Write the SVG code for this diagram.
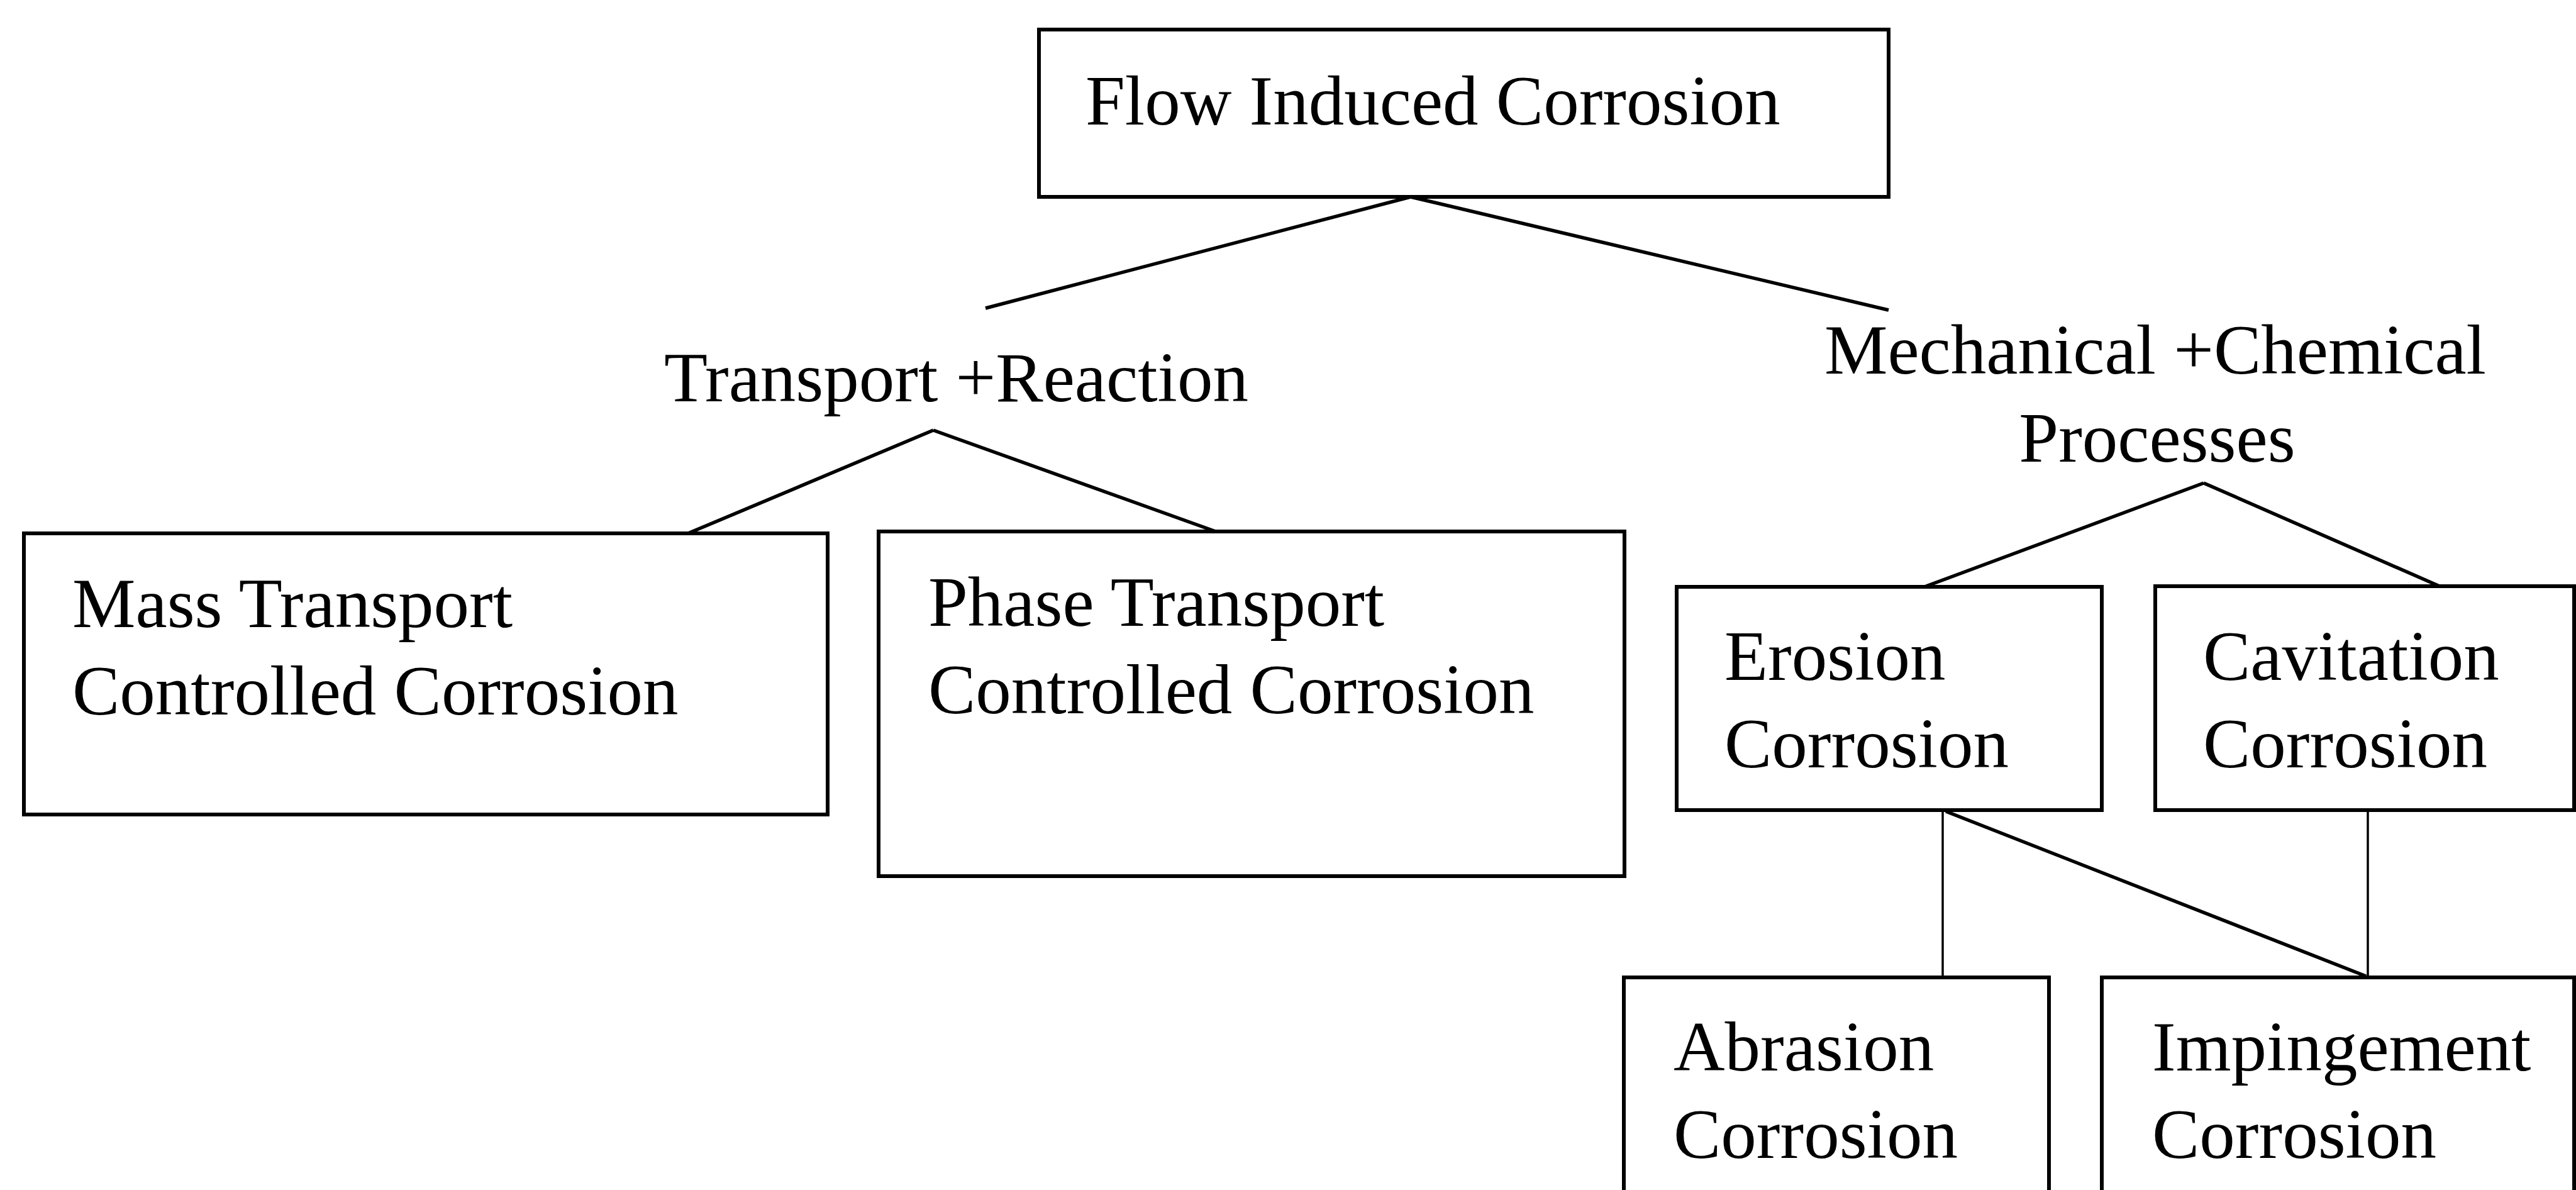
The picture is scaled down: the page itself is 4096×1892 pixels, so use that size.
<svg xmlns="http://www.w3.org/2000/svg" width="4096" height="1892" viewBox="0 0 4096 1892">
<style>
.box{fill:#fff;stroke:#000;stroke-width:6}
.t{font-family:"Liberation Serif","Times New Roman",serif;font-size:113px;fill:#000}
.c{stroke:#000;stroke-width:5.5;fill:none}
.v{stroke:#000;stroke-width:3.5;fill:none}
</style>
<rect width="4096" height="1892" fill="#fff"/>
<g id="connectors">
<line class="c" x1="2243" y1="313" x2="1567" y2="490"/>
<line class="c" x1="2243" y1="313" x2="3003" y2="493"/>
<line class="c" x1="1484" y1="684" x2="1094" y2="848"/>
<line class="c" x1="1484" y1="684" x2="1933" y2="845"/>
<line class="c" x1="3504" y1="768" x2="3060" y2="933"/>
<line class="c" x1="3504" y1="768" x2="3879" y2="932"/>
<line class="v" x1="3089" y1="1288" x2="3089" y2="1554"/>
<line class="c" x1="3094" y1="1290" x2="3762" y2="1552"/>
<line class="v" x1="3765" y1="1288" x2="3765" y2="1554"/>
</g>
<g id="flow-induced-corrosion">
<rect class="box" x="1652" y="47" width="1351" height="266"/>
<text class="t" x="1726" y="198">Flow Induced Corrosion</text>
</g>
<g id="transport-reaction">
<text class="t" x="1056" y="638">Transport +Reaction</text>
</g>
<g id="mechanical-chemical">
<text class="t" x="3427" y="594" text-anchor="middle">Mechanical +Chemical</text>
<text class="t" x="3430" y="734" text-anchor="middle">Processes</text>
</g>
<g id="mass-transport">
<rect class="box" x="38" y="848" width="1278" height="447"/>
<text class="t" x="115" y="997">Mass Transport</text>
<text class="t" x="115" y="1136">Controlled Corrosion</text>
</g>
<g id="phase-transport">
<rect class="box" x="1397" y="845" width="1186" height="548"/>
<text class="t" x="1476" y="995">Phase Transport</text>
<text class="t" x="1476" y="1134">Controlled Corrosion</text>
</g>
<g id="erosion-corrosion">
<rect class="box" x="2666" y="933" width="676" height="355"/>
<text class="t" x="2742" y="1081">Erosion</text>
<text class="t" x="2742" y="1220">Corrosion</text>
</g>
<g id="cavitation-corrosion">
<rect class="box" x="3427" y="932" width="666" height="356"/>
<text class="t" x="3503" y="1081">Cavitation</text>
<text class="t" x="3503" y="1220">Corrosion</text>
</g>
<g id="abrasion-corrosion">
<rect class="box" x="2582" y="1554" width="676" height="400"/>
<text class="t" x="2661" y="1702">Abrasion</text>
<text class="t" x="2661" y="1841">Corrosion</text>
</g>
<g id="impingement-corrosion">
<rect class="box" x="3342" y="1554" width="751" height="400"/>
<text class="t" x="3422" y="1702">Impingement</text>
<text class="t" x="3422" y="1841">Corrosion</text>
</g>
</svg>
